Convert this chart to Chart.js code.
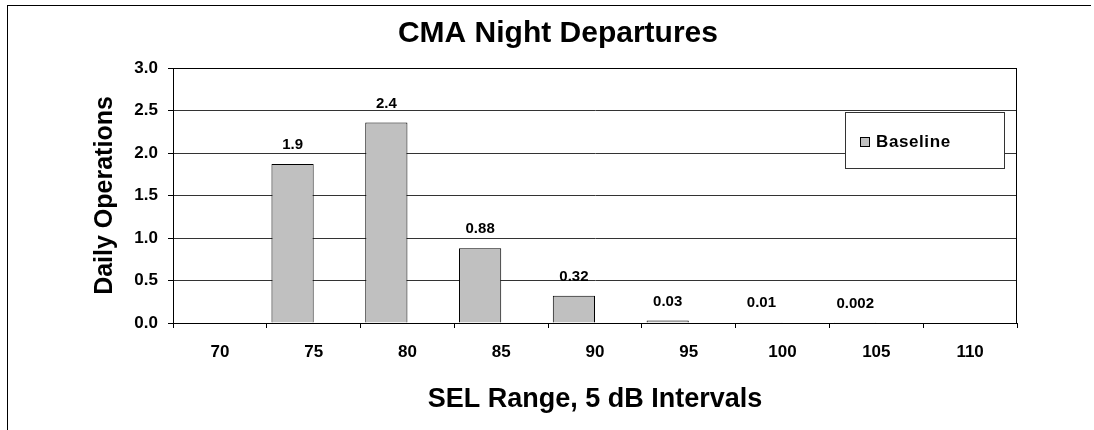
<!DOCTYPE html>
<html>
<head>
<meta charset="utf-8">
<script src="https://cdn.jsdelivr.net/npm/chart.js@4.4.0/dist/chart.umd.min.js"></script>
<style>
  html, body { margin: 0; padding: 0; background: #fff; }
  #wrap { position: relative; width: 1094px; height: 430px; }
  #frame { position: absolute; left: 7px; top: 5px; width: 1083px; height: 425px;
           border-top: 1px solid #000; border-left: 1px solid #000; pointer-events: none; }
</style>
</head>
<body>
<div id="wrap">
  <canvas id="chart" width="1094" height="430" style="width:1094px;height:430px"></canvas>
  <div id="frame"></div>
</div>
<script>
const FONT = "'Liberation Sans', Arial, sans-serif";

// SEL bins (dB) and daily night departures
const categories = ['70', '75', '80', '85', '90', '95', '100', '105', '110'];
const baseline = [0, 1.87, 2.36, 0.88, 0.32, 0.03, 0.01, 0.002, 0];
const valueLabels = ['', '1.9', '2.4', '0.88', '0.32', '0.03', '0.01', '0.002', ''];
// second (empty) series in the original workbook, keeps bars on the left half of each bin
const emptySeries = [null, null, null, null, null, null, null, null, null];
const chartTitle = 'CMA Night Departures';

const ctx = document.getElementById('chart');

// title, value labels, plot frame and the boxed legend
const extras = {
    id: 'extras',
    afterDatasetsDraw(chart) {
        const c = chart.ctx;
        const a = chart.chartArea;
        c.save();

        // title is centred on the original (wider) sheet, not on the plot
        c.fillStyle = '#000';
        c.textAlign = 'center';
        c.textBaseline = 'middle';
        c.font = 'bold 30px ' + FONT;
        c.fillText(chartTitle, chart.width * 0.51, 34);

        c.font = 'bold 15px ' + FONT;
        chart.getDatasetMeta(0).data.forEach((bar, i) => {
            if (valueLabels[i]) c.fillText(valueLabels[i], bar.x, bar.y - 19);
        });

        c.strokeStyle = '#000';
        c.lineWidth = 1;
        c.strokeRect(a.left + 0.5, a.top + 0.5, a.right - a.left - 1, a.bottom - a.top);

        // legend box
        const ds = chart.data.datasets[0];
        const lx = a.right - 172, ly = a.top + 44;
        c.fillStyle = '#fff';
        c.fillRect(lx, ly, 159, 56);
        c.strokeStyle = '#333';
        c.strokeRect(lx + 0.5, ly + 0.5, 159, 56);
        c.fillStyle = ds.backgroundColor;
        c.fillRect(lx + 15, ly + 25, 9, 9);
        c.strokeStyle = '#000';
        c.strokeRect(lx + 15.5, ly + 25.5, 9, 9);
        c.fillStyle = '#000';
        c.font = 'bold 17px ' + FONT;
        c.letterSpacing = '0.6px';
        c.textAlign = 'left';
        c.fillText(ds.label, lx + 31, ly + 30);
        c.restore();
    }
};

const data = {
    labels: categories,
    datasets: [
        {
            label: 'Baseline',
            data: baseline,
            backgroundColor: '#c0c0c0',
            borderColor: '#000',
            borderWidth: 1,
            categoryPercentage: 0.9,
            barPercentage: 1
        },
        {
            label: '',
            data: emptySeries,
            backgroundColor: '#ffffff',
            borderWidth: 0,
            categoryPercentage: 0.9,
            barPercentage: 1
        }
    ]
};

const config = {
    type: 'bar',
    data: data,
    plugins: [extras],
    options: {
        responsive: false,
        animation: false,
        layout: { padding: { left: 0, right: 77, top: 68, bottom: 0 } },
        plugins: {
            legend: { display: false },
            tooltip: { enabled: false },
            title: { display: false }
        },
        scales: {
            x: {
                offset: true,
                grid: {
                    offset: true,
                    drawOnChartArea: false,
                    drawTicks: true,
                    tickLength: 5,
                    tickColor: '#000'
                },
                border: { display: true, color: '#000' },
                ticks: {
                    color: '#000',
                    padding: 14,
                    font: { family: FONT, size: 17, weight: 'bold' }
                },
                title: {
                    display: true,
                    text: 'SEL Range, 5 dB Intervals',
                    color: '#000',
                    font: { family: FONT, size: 27, weight: 'bold' },
                    padding: { top: 0, bottom: 14 }
                },
                afterFit: (scale) => { scale.height = 107; }
            },
            y: {
                min: 0,
                max: 3,
                grid: {
                    color: '#333',
                    tickLength: 5,
                    tickColor: '#000'
                },
                border: { display: true, color: '#000' },
                ticks: {
                    stepSize: 0.5,
                    color: '#000',
                    padding: 10,
                    font: { family: FONT, size: 17, weight: 'bold' },
                    callback: (v) => Number(v).toFixed(1)
                },
                title: {
                    display: true,
                    text: 'Daily Operations',
                    color: '#000',
                    font: { family: FONT, size: 25, weight: 'bold' },
                    padding: { top: 90, bottom: 0 }
                },
                afterFit: (scale) => { scale.width = 173; }
            }
        }
    }
};

const barChart = new Chart(ctx, config);
</script>
</body>
</html>
